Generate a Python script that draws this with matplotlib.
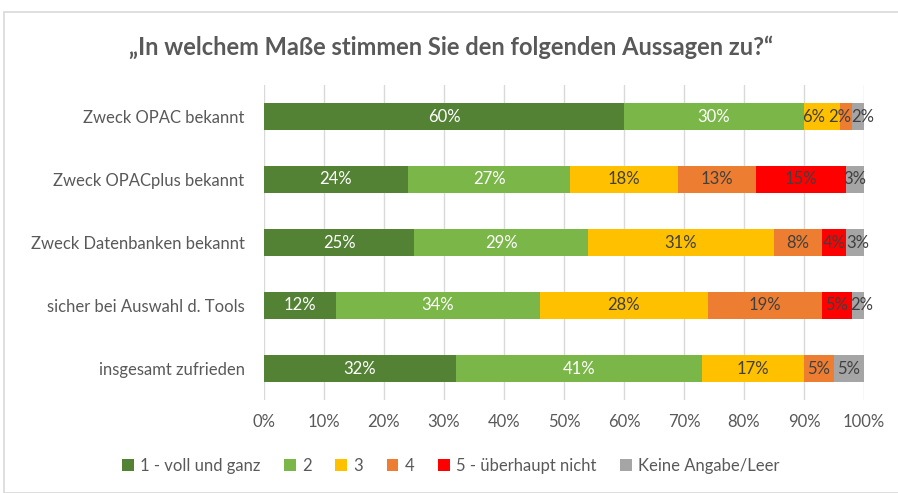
import numpy as np
import matplotlib.pyplot as plt
from matplotlib.patches import Rectangle

plt.rcParams['font.family'] = ['Lato', 'DejaVu Sans']

categories = ['Zweck OPAC bekannt', 'Zweck OPACplus bekannt', 'Zweck Datenbanken bekannt',
              'sicher bei Auswahl d. Tools', 'insgesamt zufrieden']
series_names = ['1 - voll und ganz', '2', '3', '4', '5 - überhaupt nicht', 'Keine Angabe/Leer']
voll = [60, 24, 25, 12, 32]
zwei = [30, 27, 29, 34, 41]
drei = [6, 18, 31, 28, 17]
vier = [2, 13, 8, 19, 5]
fuenf = [0, 15, 4, 5, 0]
keine = [2, 3, 3, 2, 5]
tick_labels = ['0%', '10%', '20%', '30%', '40%', '50%', '60%', '70%', '80%', '90%', '100%']

colors = ['#548235', '#7AB648', '#FFC000', '#ED7D31', '#FF0000', '#A5A5A5']
text_colors = ['white', 'white', '#404040', '#404040', '#404040', '#404040']
# label nudges (row, series) -> shift in %, like Excel's placement on crowded segments
nudges = {(0, 2): -1.4, (0, 3): -1.0, (0, 5): 0.8, (2, 5): 0.5, (3, 5): 0.6}

fig = plt.figure(figsize=(8.98, 4.93), dpi=100)
ax = fig.add_axes([264 / 898, 1 - 400 / 493, 600 / 898, (400 - 85) / 493])

fig.patches.append(Rectangle((4 / 898, 0.0), 1.0, 1 - 12 / 493, transform=fig.transFigure,
                             fill=False, edgecolor='#D9D9D9', linewidth=1.2))

y = np.arange(len(categories))
left = np.zeros(len(categories))
data = [voll, zwei, drei, vier, fuenf, keine]
for si, (name, vals, col, tc) in enumerate(zip(series_names, data, colors, text_colors)):
    vals = np.array(vals, dtype=float)
    ax.barh(y, vals, left=left, height=0.42, color=col, label=name, zorder=3)
    for yi, (l, v) in enumerate(zip(left, vals)):
        if v > 0:
            ax.text(l + v / 2 + nudges.get((yi, si), 0), yi, f'{int(v)}%', ha='center',
                    va='center', color=tc, fontsize=12, zorder=4)
    left += vals

ax.set_xlim(0, 100)
ax.set_ylim(len(categories) - 0.5, -0.5)
ax.set_xticks(np.arange(0, 101, 10))
ax.set_xticklabels(tick_labels, fontsize=12, color='#595959')
ax.set_yticks(y)
ax.set_yticklabels(categories, fontsize=12, color='#595959')
ax.tick_params(length=0, pad=14)
ax.tick_params(axis='x', pad=10)
ax.grid(axis='x', color='#D9D9D9', linewidth=1, zorder=0)
for s in ax.spines.values():
    s.set_visible(False)

fig.text(0.5 + 4 / 898 / 2, 1 - 47 / 493, '„In welchem Maße stimmen Sie den folgenden Aussagen zu?“',
         ha='center', va='center', fontsize=17, fontweight='bold', color='#595959')

leg = fig.legend(loc='center', bbox_to_anchor=(0.5 + 4 / 898 / 2, 1 - 466 / 493), ncol=6,
                 frameon=False, fontsize=12, handlelength=0.7, handleheight=0.7,
                 handletextpad=0.4, columnspacing=1.4)
for t in leg.get_texts():
    t.set_color('#595959')

fig.savefig('out.png', dpi=100)
